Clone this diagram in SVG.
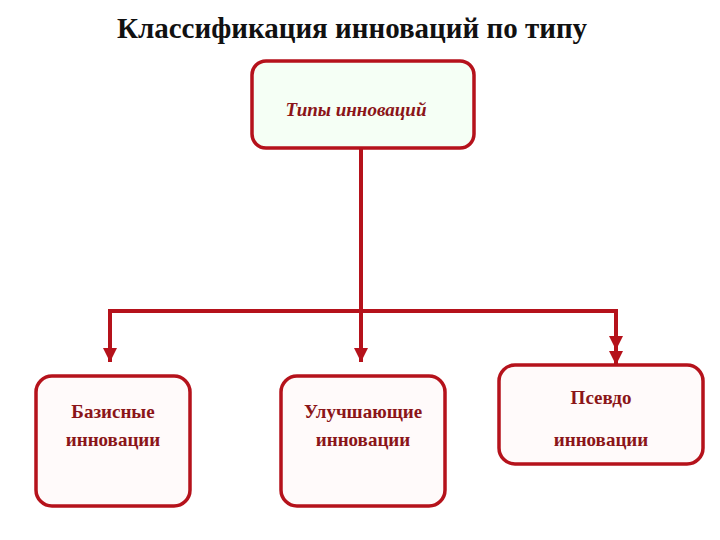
<svg xmlns="http://www.w3.org/2000/svg" width="720" height="540" viewBox="0 0 720 540">
<style>
.box{stroke:#b5121b;stroke-width:3.5}
.t{font-family:"Liberation Serif",serif;font-weight:bold;fill:#8b1518;text-anchor:middle}
.c{stroke:#b5121b;stroke-width:4;fill:none}
</style>
<defs><marker id="a" markerWidth="6" markerHeight="6" refX="3" refY="3" orient="auto" markerUnits="userSpaceOnUse" viewBox="0 0 6 6"><path d="M0,0L6,3L0,6z" fill="#b5121b"/></marker>
<marker id="ar" viewBox="0 0 10 10" refX="10" refY="5" markerWidth="14" markerHeight="14" orient="auto" markerUnits="userSpaceOnUse"><path d="M0,0L10,5L0,10z" fill="#b5121b"/></marker></defs>
<rect width="720" height="540" fill="#fff"/>
<text x="352" y="38" class="t" font-size="29" fill="#111" style="fill:#111">Классификация инноваций по типу</text>
<g id="connectors">
<path class="c" d="M361,148V311"/>
<path class="c" d="M110,350V311H616V350" marker-end="url(#ar)"/>
<path class="c" d="M110,320V362" marker-end="url(#ar)"/>
<path class="c" d="M361,311V362" marker-end="url(#ar)"/>
<path class="c" d="M616,320V365" marker-end="url(#ar)"/>
</g>
<g id="top"><rect class="box" x="252" y="61" width="222" height="87" rx="14" fill="#f5fff5"/>
<text x="356" y="116" class="t" font-size="19" font-style="italic">Типы инноваций</text></g>
<g id="n1"><rect class="box" x="36" y="376" width="154" height="130" rx="16" fill="#fffafa"/>
<text x="113" y="418" class="t" font-size="19">Базисные</text><text x="113" y="446" class="t" font-size="19">инновации</text></g>
<g id="n2"><rect class="box" x="281" y="376" width="164" height="130" rx="16" fill="#fffafa"/>
<text x="363" y="418" class="t" font-size="19">Улучшающие</text><text x="363" y="446" class="t" font-size="19">инновации</text></g>
<g id="n3"><rect class="box" x="499" y="365" width="204" height="99" rx="16" fill="#fffafa"/>
<text x="601" y="404" class="t" font-size="19">Псевдо</text><text x="601" y="446" class="t" font-size="19">инновации</text></g>
</svg>
